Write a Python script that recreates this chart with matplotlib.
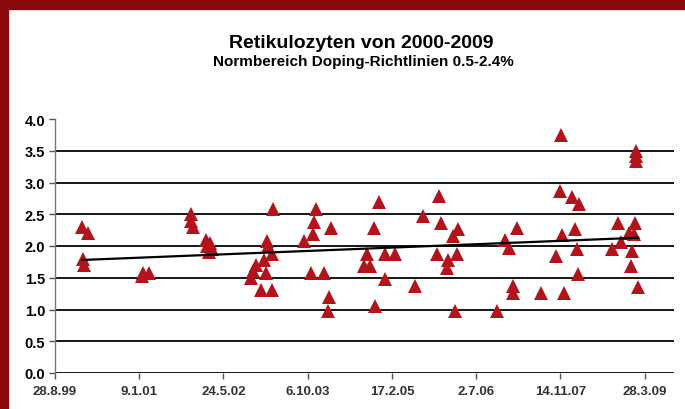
import matplotlib
matplotlib.use('Agg')
import matplotlib.pyplot as plt
import pandas as pd
from matplotlib.patches import Rectangle

plt.rcParams['font.family'] = ['Liberation Sans', 'DejaVu Sans']

# measurement dates and reticulocyte values (%)
dates = [
    '2000-02-05', '2000-03-12', '2000-02-11', '2000-02-14',
    '2001-01-28', '2001-02-03', '2001-03-05',
    '2001-11-11', '2001-11-11', '2001-11-23',
    '2002-02-08', '2002-03-04', '2002-02-14', '2002-03-16', '2002-02-28',
    '2002-11-04', '2002-11-16', '2002-12-04', '2003-01-21', '2003-02-07',
    '2003-02-13', '2003-02-01', '2003-03-09', '2003-03-15', '2003-01-03',
    '2003-03-08',
    '2003-09-16', '2003-11-09', '2003-11-15', '2003-11-27', '2004-02-24',
    '2003-10-28', '2004-01-08', '2004-02-07', '2004-02-06',
    '2004-12-01', '2004-11-01', '2004-09-20', '2004-09-02', '2004-10-08',
    '2005-01-06', '2005-03-07', '2005-01-05', '2004-11-07',
    '2005-07-04', '2005-08-21', '2005-11-24', '2005-12-06', '2005-11-12',
    '2006-03-18', '2006-02-16', '2006-01-17', '2006-01-11', '2006-03-12',
    '2006-02-28',
    '2006-11-05', '2006-12-17', '2007-01-10', '2007-02-03', '2007-02-03',
    '2007-02-27', '2007-07-20',
    '2007-11-16', '2007-11-10', '2008-01-21', '2008-03-03', '2007-11-22',
    '2007-10-18', '2008-02-08', '2008-02-20', '2008-02-26', '2007-12-04',
    '2008-10-22', '2008-09-16', '2009-01-31', '2008-12-26', '2009-01-25',
    '2008-11-09', '2009-01-13', '2009-01-07', '2009-02-18',
    '2009-02-06', '2009-02-06', '2009-02-06',
]
values = [
    2.30, 2.20, 1.80, 1.70,
    1.52, 1.57, 1.58,
    2.50, 2.40, 2.30,
    2.10, 2.05, 2.00, 1.95, 1.90,
    1.50, 1.60, 1.70, 1.78, 2.08,
    2.00, 1.58, 1.88, 2.58, 1.30,
    1.30,
    2.08, 2.19, 2.38, 2.58, 2.29,
    1.57, 1.57, 1.19, 0.98,
    2.69, 2.28, 1.87, 1.69, 1.69,
    1.87, 1.87, 1.48, 1.06,
    1.37, 2.48, 2.78, 2.37, 1.87,
    2.27, 2.16, 1.78, 1.66, 1.87,
    0.97,
    0.97, 2.09, 1.97, 1.37, 1.26,
    2.28, 1.26,
    3.75, 2.87, 2.77, 2.66, 2.17,
    1.85, 2.27, 1.95, 1.56, 1.26,
    2.36, 1.95, 2.37, 2.21, 2.19,
    2.06, 1.92, 1.69, 1.35,
    3.50, 3.41, 3.34,
]

# linear trend line as drawn in the chart
trend_dates = ['2000-02-05', '2009-02-18']
trend_values = [1.78, 2.13]

x_tick_labels = ['28.8.99', '9.1.01', '24.5.02', '6.10.03', '17.2.05', '2.7.06', '14.11.07', '28.3.09']
y_ticks = [0.0, 0.5, 1.0, 1.5, 2.0, 2.5, 3.0, 3.5, 4.0]
x_end = '2009-09-18'

title = 'Retikulozyten von 2000-2009'
subtitle = 'Normbereich Doping-Richtlinien 0.5-2.4%'

marker_red = '#b3141c'
frame_red = '#8a0b0e'

fig = plt.figure(figsize=(6.85, 4.1), dpi=100)
ax = fig.add_axes([55 / 685, 36 / 410, 619 / 685, 254 / 410])

x = pd.to_datetime(dates)
ax.plot(x, values, linestyle='none', marker='^', markersize=10,
        color=marker_red, markeredgewidth=0, zorder=3)
ax.plot(pd.to_datetime(trend_dates), trend_values, color='black', lw=1.6, zorder=4)

for v in y_ticks[:-1]:
    ax.axhline(v, color='#151515', lw=1.4, zorder=1)

x_ticks = pd.to_datetime(x_tick_labels, format='%d.%m.%y')
ax.set_xticks(x_ticks)
ax.set_xticklabels(x_tick_labels)
ax.set_xlim(x_ticks[0], pd.Timestamp(x_end))
ax.set_yticks(y_ticks)
ax.set_yticklabels([f'{v:.1f}' for v in y_ticks])
ax.set_ylim(0, 4.0)

for s in ['top', 'right', 'bottom']:
    ax.spines[s].set_visible(False)
ax.spines['left'].set_color('#777777')
ax.spines['left'].set_linewidth(1.0)

ax.tick_params(axis='y', direction='out', length=4, width=1, color='#555555',
               labelsize=10.5, pad=3)
ax.tick_params(axis='x', direction='out', length=4, width=1, color='#555555',
               labelsize=9.5, pad=5, labelcolor='#333333')
for lab in ax.get_yticklabels():
    lab.set_fontweight('bold')
for lab in ax.get_xticklabels():
    lab.set_fontweight('bold')

fig.text(0.528, 1 - 43 / 410, title, ha='center', va='center',
         fontsize=14, fontweight='bold')
fig.text(0.530, 1 - 62 / 410, subtitle, ha='center', va='center',
         fontsize=11, fontweight='bold')

# dark red frame at top and left edge
fig.patches.append(Rectangle((0, 1 - 10 / 410), 1, 10 / 410, transform=fig.transFigure,
                             color=frame_red, zorder=0))
fig.patches.append(Rectangle((0, 0), 8 / 685, 1, transform=fig.transFigure,
                             color=frame_red, zorder=0))

fig.savefig('out.png', dpi=100)
